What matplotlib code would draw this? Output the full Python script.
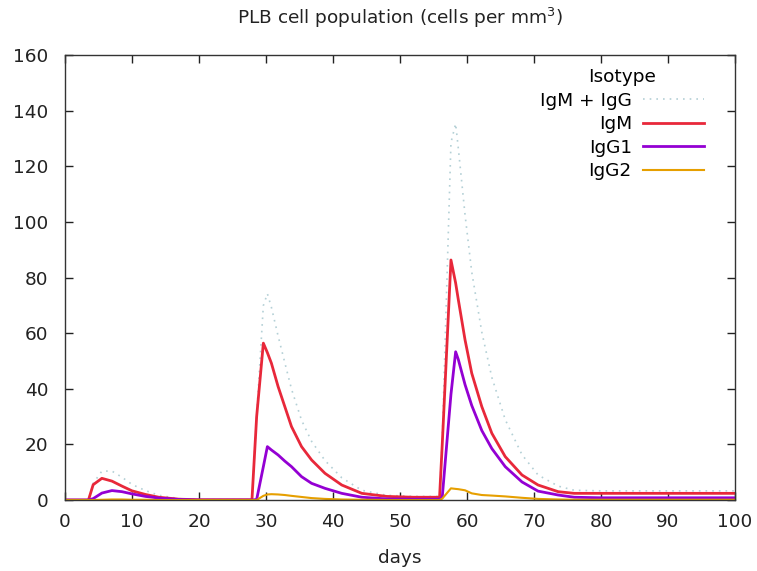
import matplotlib
matplotlib.use("Agg")
import matplotlib.pyplot as plt
import numpy as np

days = [0, 3.5, 4.2, 5.5, 7, 8.5, 10, 12, 14, 17, 20, 27.9, 28.6, 29.6, 30.2, 30.8,
        31.8, 32.8, 33.8, 35.3, 36.8, 38.8, 41.3, 44.3, 48, 52, 55.9, 56.3, 57.6, 58.3,
        58.7, 59.7, 60.7, 62.2, 63.7, 65.7, 68.2, 70.6, 73.6, 76, 80, 90, 100]

igm = [0, 0, 5.5, 7.8, 6.8, 5.0, 3.3, 2.0, 1.0, 0.3, 0.1, 0.1, 30, 56.4, 53, 49.2,
       40.8, 33.6, 26.4, 19.2, 14.4, 9.6, 5.4, 2.4, 1.3, 1.0, 1.0, 20, 86.3, 78,
       72, 57.6, 45.6, 33.6, 24, 15.6, 9.0, 5.4, 3.0, 2.4, 2.4, 2.4, 2.4]

igg1 = [0, 0, 0.5, 2.5, 3.4, 3.0, 2.2, 1.3, 0.7, 0.2, 0, 0, 0.2, 12, 19.2, 18,
        16.2, 14, 12, 8.4, 6.0, 4.2, 2.4, 1.0, 0.4, 0.3, 0.3, 1.0, 38, 53.3,
        50.5, 41.5, 34, 25, 18.5, 12, 6.5, 3.2, 1.8, 1.0, 0.8, 0.8, 0.8]

igg2 = [0, 0, 0, 0.1, 0.2, 0.2, 0.1, 0.1, 0, 0, 0, 0, 0, 1.5, 2.0, 2.1,
        2.0, 1.8, 1.5, 1.1, 0.7, 0.4, 0.2, 0.1, 0, 0, 0, 0.5, 4.2, 4.0,
        3.9, 3.5, 2.4, 1.8, 1.6, 1.3, 0.8, 0.4, 0.2, 0.1, 0.1, 0.1, 0.1]

total = [a + b + c for a, b, c in zip(igm, igg1, igg2)]

xticks = list(range(0, 101, 10))
yticks = list(range(0, 161, 20))

FS = 13.3
plt.rcParams['font.family'] = ['DejaVu Sans']
fig = plt.figure(figsize=(7.57, 5.71), dpi=100)
ax = fig.add_axes([0.0859, 0.1243, 0.8851, 0.7794])

ax.plot(days, total, linestyle=(0, (1, 3)), color='#b4d0d6', lw=1.2, label='IgM + IgG')
ax.plot(days, igm, color='#e8283a', lw=2.0, label='IgM')
ax.plot(days, igg1, color='#9400d3', lw=2.0, label='IgG1')
ax.plot(days, igg2, color='#e69f00', lw=1.5, label='IgG2')

ax.set_xlim(0, 100)
ax.set_ylim(0, 160)
ax.set_xticks(xticks)
ax.set_yticks(yticks)
ax.tick_params(direction='in', top=True, right=True, length=6, width=1,
               labelsize=FS, colors='#222222')
ax.tick_params(axis='y', pad=12)
ax.tick_params(axis='x', pad=9)
for s in ax.spines.values():
    s.set_color('#333333')
    s.set_linewidth(1.0)

ax.set_xlabel('days', fontsize=FS, color='#222222', labelpad=13)
ax.set_title('PLB cell population (cells per mm$^3$)', fontsize=FS, color='#222222', pad=22)

leg = ax.legend(loc='upper right', frameon=False, markerfirst=False, title='Isotype',
                fontsize=FS, title_fontsize=FS, handlelength=3.3, handletextpad=0.6,
                labelspacing=0.3, bbox_to_anchor=(0.97, 0.995), borderaxespad=0.2)

fig.savefig('out.png', dpi=100)
